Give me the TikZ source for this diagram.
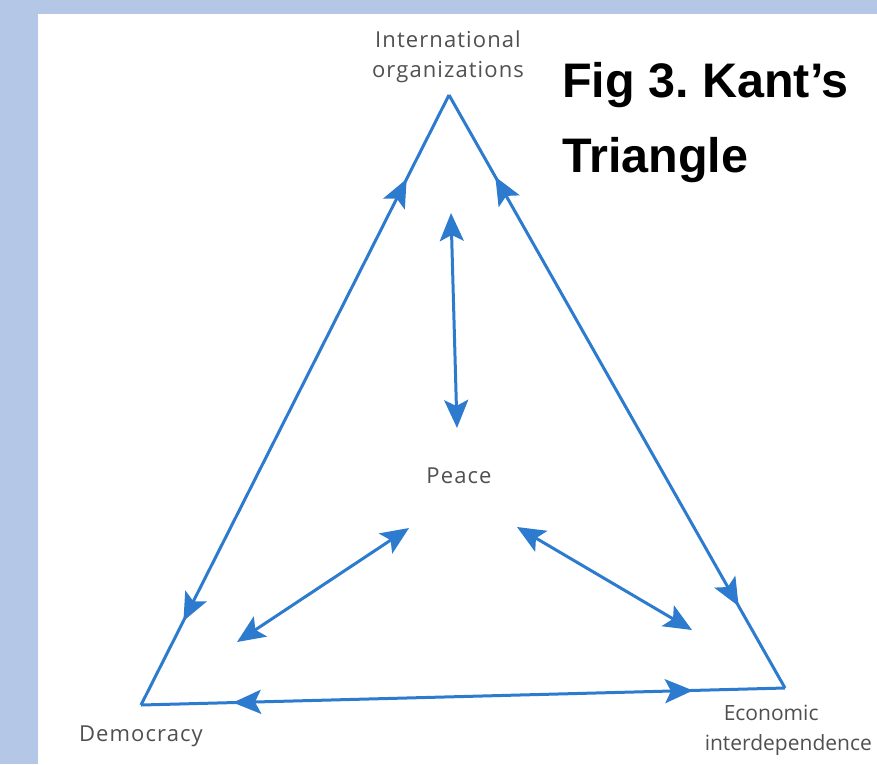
\documentclass[tikz,border=0pt]{standalone}
\usepackage{fontspec}
\setmainfont{Open Sans}[LetterSpace=5]
\newfontfamily\plainfont{Open Sans}
\newfontfamily\figfont{Liberation Sans}
\usetikzlibrary{arrows.meta,decorations.markings}
\definecolor{bandblue}{RGB}{180,199,231}
\definecolor{lineblue}{RGB}{44,123,207}
\definecolor{labelgray}{RGB}{80,80,80}
\tikzset{
  bigtip/.tip={Stealth[length=28pt,width=24pt,inset=6pt]},
  edge/.style={draw=lineblue, line width=3pt, line join=miter},
  dbl/.style={edge, bigtip-bigtip},
  midarrows/.style={edge, postaction={decorate}, decoration={markings,
      mark=at position #1 with {\arrowreversed[lineblue]{bigtip}},
      mark=at position -#1 with {\arrow[lineblue]{bigtip}}}},
  lbl/.style={text=labelgray, font=\fontsize{22}{30}\selectfont, align=center, inner sep=0pt},
  title/.style={font=\figfont\bfseries\fontsize{48.5}{75}\selectfont, anchor=base west, inner sep=0pt}
}
\begin{document}
\frenchspacing
\begin{tikzpicture}[x=1pt,y=-1pt]
\fill[bandblue] (0,0) rectangle (877,764);
\fill[white] (38,14) rectangle (877,764);
\useasboundingbox (0,0) rectangle (877,764);

\coordinate (A) at (449,95);
\coordinate (D) at (141,705);
\coordinate (E) at (785,688);

\path[midarrows=94pt] (A) -- (D);
\path[midarrows=94pt] (A) -- (E);
\path[midarrows=92pt] (D) -- (E);

\coordinate (vt) at (451,213);
\coordinate (vb) at (457,428);
\coordinate (lt) at (409,528);
\coordinate (lb) at (237,642);
\coordinate (rt) at (517,527);
\coordinate (rb) at (692,630);

\draw[dbl] (vt) -- (vb);
\draw[dbl] (lt) -- (lb);
\draw[dbl] (rt) -- (rb);

\node[lbl] (io) at (448,57) {International\\organizations};
\node[lbl] (peace) at (459,476) {Peace};
\node[lbl] (dem) at (141,736) {Democracy};
\node[lbl, align=left, anchor=north east, font=\plainfont\fontsize{21}{30}\selectfont] (eco) at (872,705) {\hspace*{19pt}Economic\\interdependence};

\node[title] (fig) at (562,97) {Fig 3. Kant’s};
\node[title] (tri) at (562,172) {Triangle};
\end{tikzpicture}
\end{document}
